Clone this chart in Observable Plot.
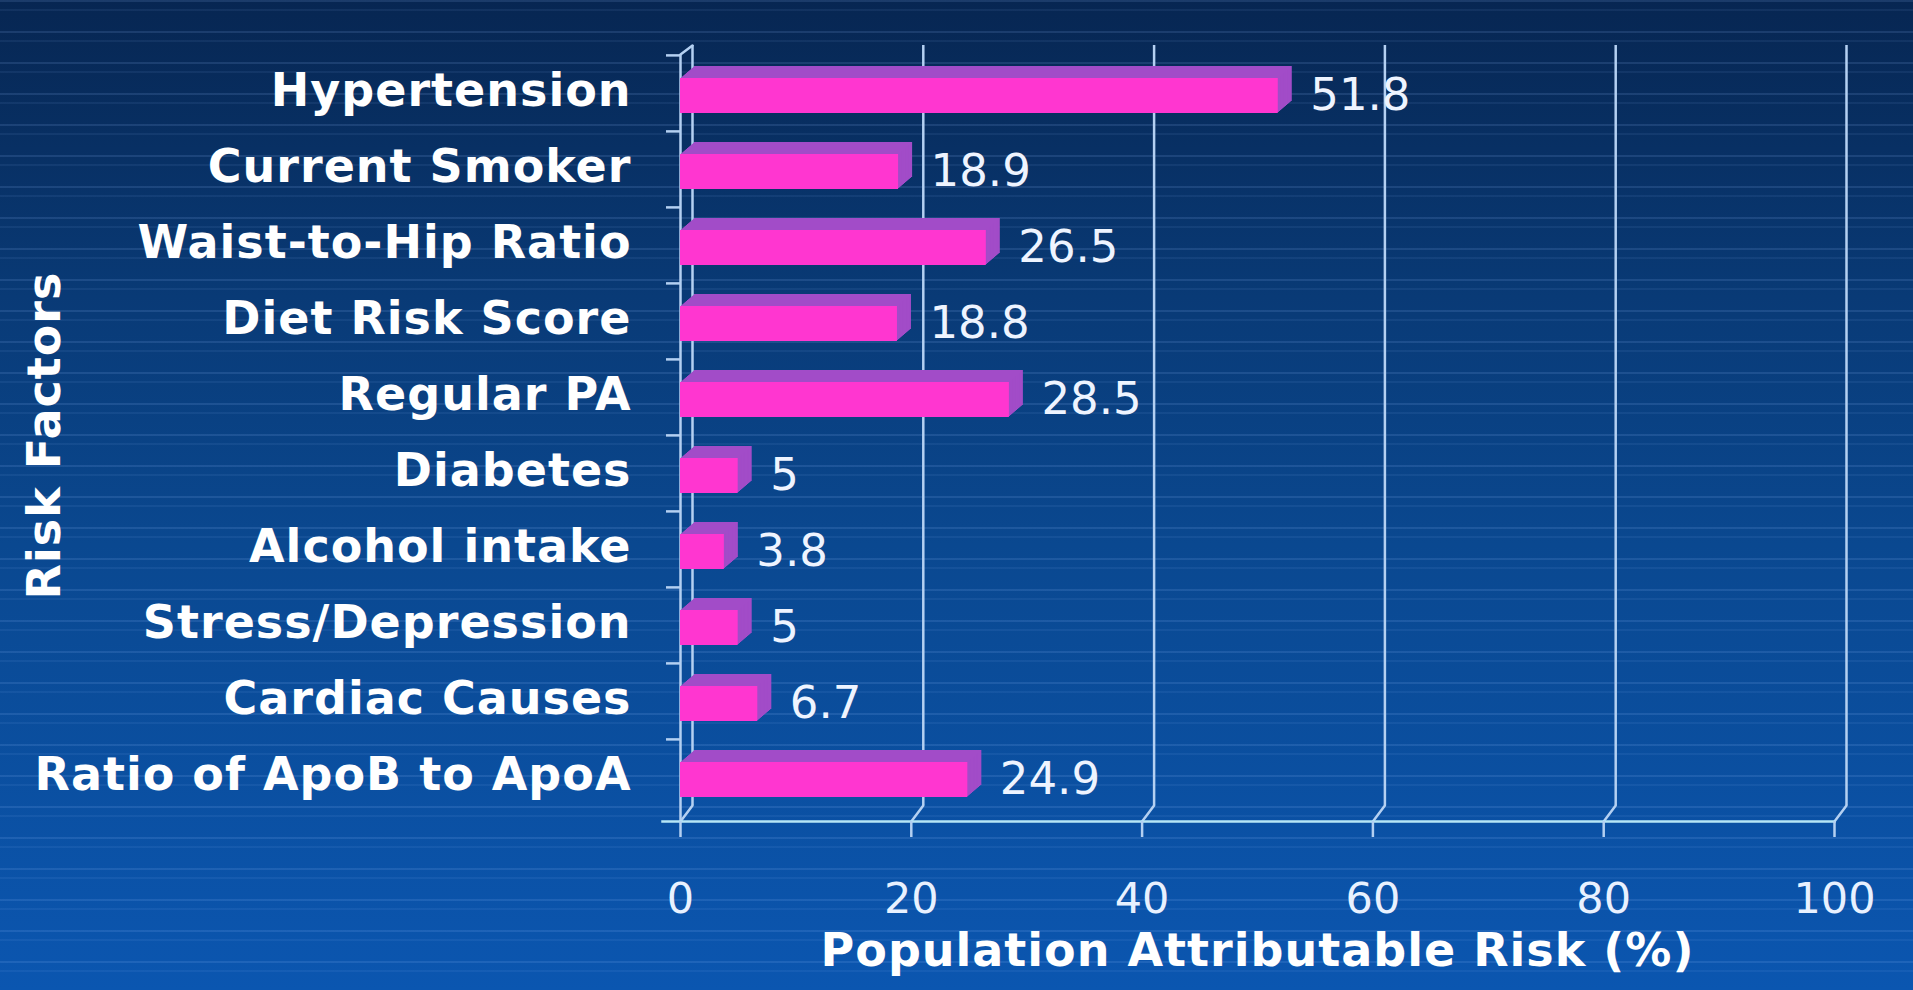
<!DOCTYPE html>
<html>
<head>
<meta charset="utf-8">
<script src="https://cdn.jsdelivr.net/npm/d3@7"></script>
<script src="https://cdn.jsdelivr.net/npm/@observablehq/plot@0.6"></script>
<style>
html, body { margin: 0; padding: 0; width: 1913px; height: 990px; overflow: hidden; }
body {
  background:
    repeating-linear-gradient(to bottom,
      rgba(150,190,255,0.14) 0px, rgba(150,190,255,0.14) 2px,
      transparent 2px, transparent 9px,
      rgba(150,190,255,0.08) 9px, rgba(150,190,255,0.08) 11px,
      transparent 11px, transparent 31px),
    linear-gradient(to bottom, #072652 0%, #093a76 30%, #0a4890 55%, #0b56b0 100%);
}
#chart { position: absolute; left: 0; top: 0; }
#chart text.wide, #chart .wide text { letter-spacing: 1px; }
</style>
</head>
<body>
<div id="chart"></div>
<script>
// ---- data ----
const factors = [
  "Hypertension",
  "Current Smoker",
  "Waist-to-Hip Ratio",
  "Diet Risk Score",
  "Regular PA",
  "Diabetes",
  "Alcohol intake",
  "Stress/Depression",
  "Cardiac Causes",
  "Ratio of ApoB to ApoA"
];
const values = [51.8, 18.9, 26.5, 18.8, 28.5, 5, 3.8, 5, 6.7, 24.9];
const xTicks = [0, 20, 40, 60, 80, 100];
const xTitle = "Population Attributable Risk (%)";
const yTitle = "Risk Factors";

const data = factors.map((f, i) => ({factor: f, value: values[i]}));

// ---- layout / style ----
const W = 1913, H = 990;
const mL = 680, mR = 79, mT = 54, mB = 174;
const step = (H - mT - mB) / factors.length;
const midY = mT + (H - mT - mB) / 2;
const axisY0 = H - mB + 5;           // front floor line
const gridStroke = "#b4d0f2";
const frontColor = "#ff36d0";
const depthColor = "#a24cc8";
const depthSteps = 12, depthDX = 14;

const lineShape = {draw(context, l) { context.moveTo(0, 0); context.lineTo(0, -l); }};

const depthMarks = [];
for (let i = depthSteps; i >= 1; i--) {
  depthMarks.push(Plot.barX(data, {
    x: "value", y: "factor", fill: depthColor,
    insetTop: 23, insetBottom: 18,
    dx: i * depthDX / depthSteps, dy: -i
  }));
}

const chart = Plot.plot({
  width: W,
  height: H,
  marginLeft: mL,
  marginRight: mR,
  marginTop: mT,
  marginBottom: mB,
  style: {background: "transparent", color: "#ffffff", fontFamily: "DejaVu Sans", overflow: "visible"},
  x: {domain: [0, 100], label: null},
  y: {domain: factors, padding: 0, label: null},
  marks: [
    // back wall gridlines
    Plot.ruleX(xTicks, {stroke: gridStroke, strokeWidth: 2.5, dx: 12, dy: -9, insetBottom: 2}),
    // diagonal joins from floor to back wall
    Plot.vectorX(xTicks, {x: d => d, length: 20, rotate: 36.9, anchor: "start", shape: lineShape,
      stroke: gridStroke, strokeWidth: 2.5, dy: axisY0 - midY}),
    // front y axis line
    Plot.ruleX([0], {stroke: gridStroke, strokeWidth: 2.5, insetBottom: -5}),
    Plot.vectorX([0], {x: d => d, length: 15, rotate: 53, anchor: "start", shape: lineShape,
      stroke: gridStroke, strokeWidth: 2.5, dy: mT - midY}),
    // floor line
    Plot.frame({anchor: "bottom", dy: 5, insetLeft: -18, stroke: "#b6e6f6", strokeWidth: 2.5}),
    // category boundary ticks
    Plot.axisY({tickSize: 14, tickFormat: () => "", dy: -step / 2, stroke: gridStroke, strokeWidth: 2.5}),
    // bars: depth then front face
    ...depthMarks,
    Plot.barX(data, {x: "value", y: "factor", fill: frontColor, insetTop: 23, insetBottom: 18}),
    // value labels
    Plot.text(data, {x: "value", y: "factor", text: d => String(d.value), dx: 32, dy: 2,
      textAnchor: "start", fontSize: 45, fill: "#eef4ff"}),
    // axes
    Plot.axisY({tickSize: 0, tickPadding: 49, fontSize: 46, fontWeight: "bold", fill: "#ffffff", dy: -2,
      className: "wide"}),
    Plot.axisX({ticks: xTicks, tickSize: 16, tickPadding: 45, dy: 5, fontSize: 43,
      fill: "#e8f1ff", stroke: gridStroke, strokeWidth: 2.5}),
    // axis titles
    Plot.text([xTitle], {text: d => d, frameAnchor: "bottom", lineAnchor: "middle", dy: 135, fontSize: 46,
      fontWeight: "bold", fill: "#ffffff", className: "wide"}),
    Plot.text([yTitle], {text: d => d, frameAnchor: "left", textAnchor: "middle", lineAnchor: "middle",
      dx: -635, rotate: -90, fontSize: 46, fontWeight: "bold", fill: "#ffffff", className: "wide"})
  ]
});

document.getElementById("chart").appendChild(chart);
</script>
</body>
</html>
